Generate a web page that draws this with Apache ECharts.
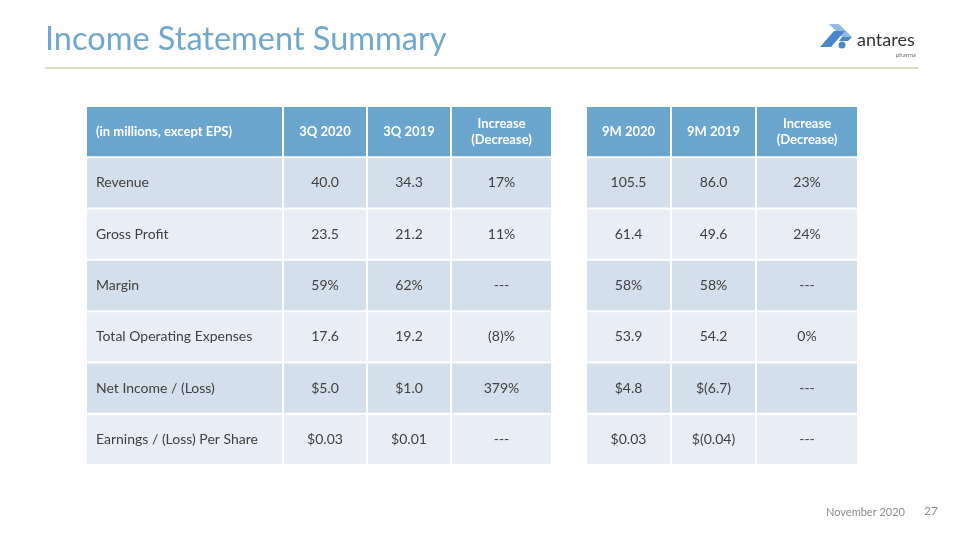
<!DOCTYPE html>
<html>
<head>
<meta charset="utf-8">
<script src="https://cdn.jsdelivr.net/npm/echarts@6/dist/echarts.min.js"></script>
<style>
html,body{margin:0;padding:0;background:#fff;}
#main{width:960px;height:540px;}
</style>
</head>
<body>
<div id="main"></div>
<script>
// ---- data ----
const rowLabels = ['Revenue', 'Gross Profit', 'Margin', 'Total Operating Expenses', 'Net Income / (Loss)', 'Earnings / (Loss) Per Share'];
const q3Headers = ['(in millions, except EPS)', '3Q 2020', '3Q 2019', 'Increase\n(Decrease)'];
const q3_2020 = ['40.0', '23.5', '59%', '17.6', '$5.0', '$0.03'];
const q3_2019 = ['34.3', '21.2', '62%', '19.2', '$1.0', '$0.01'];
const q3Change = ['17%', '11%', '---', '(8)%', '379%', '---'];
const m9Headers = ['9M 2020', '9M 2019', 'Increase\n(Decrease)'];
const m9_2020 = ['105.5', '61.4', '58%', '53.9', '$4.8', '$0.03'];
const m9_2019 = ['86.0', '49.6', '58%', '54.2', '$(6.7)', '$(0.04)'];
const m9Change = ['23%', '24%', '---', '0%', '---', '---'];

// ---- layout / style ----
const FONT = 'Lato';
const leftEdges = [0, 197, 281, 365, 466];
const rightEdges = [0, 85, 170, 272];
const headerColor = '#6ba6cf';
const darkRow = '#d3dfeb';
const lightRow = '#e9eef6';
const textColor = '#404040';
const rowsCat = ['header'].concat(rowLabels);

function buildCells(headers, columns) {
  const cells = [];
  headers.forEach((h, c) => cells.push({ value: [c, 0], text: h, header: true, left: false }));
  columns.forEach((col, c) => {
    col.forEach((t, r) => cells.push({ value: [c, r + 1], text: t, header: false, left: false }));
  });
  return cells;
}
const leftCells = buildCells(q3Headers, [rowLabels, q3_2020, q3_2019, q3Change]);
leftCells.forEach(d => { if (d.value[0] === 0) d.left = true; });
const rightCells = buildCells(m9Headers, [m9_2020, m9_2019, m9Change]);

function makeRender(edges, cells) {
  return function (params, api) {
    const d = cells[params.dataIndex];
    const col = api.value(0), row = api.value(1);
    const p0 = api.coord([edges[col], row]);
    const p1 = api.coord([edges[col + 1], row]);
    const h = api.size([0, 1])[1];
    const x = p0[0] + 1, y = p0[1] - h / 2 + 1, w = p1[0] - p0[0] - 2, hh = h - 2;
    const fill = d.header ? headerColor : (row % 2 === 1 ? darkRow : lightRow);
    return {
      type: 'group',
      children: [
        { type: 'rect', shape: { x: x, y: y, width: w, height: hh }, style: { fill: fill } },
        {
          type: 'text',
          x: d.left ? x + 9 : x + w / 2,
          y: y + hh / 2,
          style: {
            text: d.text,
            fill: d.header ? '#ffffff' : textColor,
            font: (d.header ? 'bold 13px ' : '14px ') + FONT,
            align: d.left ? 'left' : 'center',
            verticalAlign: 'middle',
            lineHeight: 16
          }
        }
      ]
    };
  };
}

const chart = echarts.init(document.getElementById('main'), null, { renderer: 'canvas' });
chart.setOption({
  animation: false,
  backgroundColor: '#ffffff',
  grid: [
    { left: 86, top: 106, width: 466, height: 359 },
    { left: 586, top: 106, width: 272, height: 359 }
  ],
  xAxis: [
    { type: 'value', gridIndex: 0, min: 0, max: 466, show: false },
    { type: 'value', gridIndex: 1, min: 0, max: 272, show: false }
  ],
  yAxis: [
    { type: 'category', gridIndex: 0, data: rowsCat, inverse: true, show: false },
    { type: 'category', gridIndex: 1, data: rowsCat, inverse: true, show: false }
  ],
  series: [
    { type: 'custom', xAxisIndex: 0, yAxisIndex: 0, data: leftCells.map(d => d.value), renderItem: makeRender(leftEdges, leftCells) },
    { type: 'custom', xAxisIndex: 1, yAxisIndex: 1, data: rightCells.map(d => d.value), renderItem: makeRender(rightEdges, rightCells) }
  ],
  graphic: [
    { type: 'text', left: 45, top: 23, style: { text: 'Income Statement Summary', font: '32.5px ' + FONT, fill: '#6fa8cc' } },
    { type: 'line', shape: { x1: 45, y1: 68, x2: 918, y2: 68 }, style: { stroke: '#aebf80', lineWidth: 1 } },
    // logo
    { type: 'polygon', shape: { points: [[829, 24], [839, 24], [852, 37], [842, 37]] }, style: { fill: '#8dbde6' } },
    { type: 'polygon', shape: { points: [[834, 31], [845, 31], [831, 47], [820, 47]] }, style: { fill: '#4a86c8' } },
    { type: 'polygon', shape: { points: [[842, 37], [852, 37], [848, 41], [839, 41]] }, style: { fill: '#4a86c8' } },
    { type: 'circle', shape: { cx: 842, cy: 45, r: 3.5 }, style: { fill: '#4a86c8' } },
    { type: 'text', left: 857, top: 31, style: { text: 'antares', font: '18px ' + FONT, fill: '#333333' } },
    { type: 'text', left: 896, top: 52, style: { text: 'pharma', font: '6px ' + FONT, fill: '#666666' } },
    // footer
    { type: 'text', left: 826, top: 507, style: { text: 'November 2020', font: '11px ' + FONT, fill: '#8c8c8c' } },
    { type: 'text', left: 924, top: 505, style: { text: '27', font: '12px ' + FONT, fill: '#8c8c8c' } }
  ]
});
</script>
</body>
</html>
